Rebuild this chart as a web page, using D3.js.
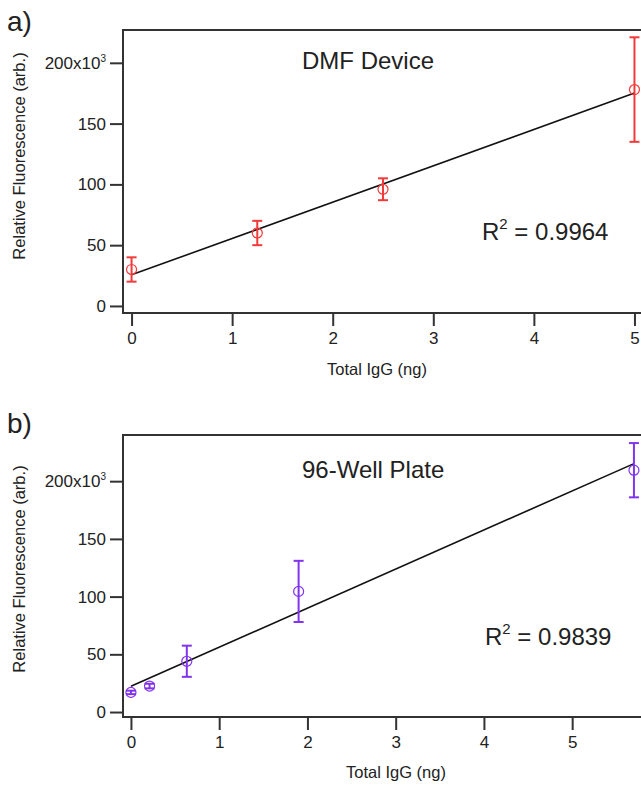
<!DOCTYPE html>
<html>
<head>
<meta charset="utf-8">
<script src="https://cdn.jsdelivr.net/npm/d3@7"></script>
<style>
  body { margin: 0; background: #fff; }
  svg text { font-family: "Liberation Sans", Arial, sans-serif; fill: #222; }
</style>
</head>
<body>
<div class="canvas"></div>
<script>
const WIDTH = 641;
const HEIGHT = 785;

// data (fluorescence in x10^3 arb. units)
const dmfIgG = [0, 1.25, 2.5, 5];
const dmfFluor = [30, 60, 96, 178];
const dmfErr = [10, 10, 9, 43];

const plateIgG = [0, 0.211, 0.633, 1.9, 5.7];
const plateFluor = [17, 22.5, 44, 104.5, 209.5];
const plateErr = [1.5, 2, 13.5, 26.5, 23.5];

const yTicks = [0, 50, 100, 150, 200];
const xTicks = [0, 1, 2, 3, 4, 5];

// colors
const red = '#f23a3a';
const purple = '#8133ee';
const axisColor = '#333';

const svg = d3.select('.canvas')
  .append('svg')
    .attr('width', WIDTH)
    .attr('height', HEIGHT);

// least squares fit
const fit = (xs, ys) => {
  const mx = d3.mean(xs), my = d3.mean(ys);
  const sxy = d3.sum(xs, (x, i) => (x - mx) * (ys[i] - my));
  const sxx = d3.sum(xs, x => (x - mx) * (x - mx));
  const slope = sxy / sxx;
  return { slope, intercept: my - slope * mx };
};

const drawPanel = cfg => {
  const x = d3.scaleLinear().domain(cfg.xDomain).range([123, 641]);
  const y = d3.scaleLinear().domain(cfg.yDomain).range([cfg.bottom, cfg.top]);

  const g = svg.append('g');

  // panel letter
  g.append('text')
    .attr('x', 7)
    .attr('y', cfg.letterY)
    .attr('font-size', 28)
    .text(cfg.letter);

  // frame (right side runs off the picture)
  g.append('path')
    .attr('d', `M650,${cfg.top}H123V${cfg.bottom}H650`)
    .attr('fill', 'none')
    .attr('stroke', axisColor)
    .attr('stroke-width', 2);

  // y axis
  const yAxis = d3.axisLeft(y)
    .tickValues(yTicks)
    .tickSize(13)
    .tickPadding(4)
    .tickFormat(d => d === 200 ? '' : d);

  const yAxisGroup = g.append('g')
    .attr('transform', 'translate(123,0)')
    .call(yAxis);
  yAxisGroup.select('.domain').remove();
  yAxisGroup.selectAll('line').attr('stroke', axisColor).attr('stroke-width', 2);
  yAxisGroup.selectAll('text')
    .attr('font-size', 17)
    .attr('fill', '#222')
    .each(function(d) {
      if (d !== 200) return;
      const t = d3.select(this);
      t.append('tspan').text('200x10');
      t.append('tspan').attr('font-size', 10).attr('dy', -7).text('3');
    });

  // x axis
  const xAxis = d3.axisBottom(x)
    .tickValues(xTicks)
    .tickSize(13)
    .tickPadding(6)
    .tickFormat(d3.format('d'));

  const xAxisGroup = g.append('g')
    .attr('transform', `translate(0,${cfg.bottom})`)
    .call(xAxis);
  xAxisGroup.select('.domain').remove();
  xAxisGroup.selectAll('line').attr('stroke', axisColor).attr('stroke-width', 2);
  xAxisGroup.selectAll('text').attr('font-size', 17).attr('fill', '#222');

  // axis titles
  g.append('text')
    .attr('transform', `translate(25,${cfg.yLabelCenter}) rotate(-90)`)
    .attr('text-anchor', 'middle')
    .attr('font-size', 16.5)
    .text('Relative Fluorescence (arb.)');

  g.append('text')
    .attr('x', cfg.xLabelX)
    .attr('y', cfg.xLabelY)
    .attr('font-size', 16.5)
    .text('Total IgG (ng)');

  // fit line
  const f = fit(cfg.xs, cfg.ys);
  const xEnd = d3.max(cfg.xs);
  g.append('line')
    .attr('x1', x(0))
    .attr('y1', y(f.intercept))
    .attr('x2', x(xEnd))
    .attr('y2', y(f.intercept + f.slope * xEnd))
    .attr('stroke', '#111')
    .attr('stroke-width', 1.6);

  const pts = cfg.xs.map((v, i) => ({ x: v, y: cfg.ys[i], e: cfg.errs[i] }));

  // error bars
  const bars = g.selectAll('.err')
    .data(pts)
    .enter().append('g')
      .attr('class', 'err')
      .attr('stroke', cfg.color)
      .attr('stroke-width', 2);

  bars.append('line')
    .attr('x1', d => x(d.x)).attr('x2', d => x(d.x))
    .attr('y1', d => y(d.y - d.e)).attr('y2', d => y(d.y + d.e));
  bars.append('line')
    .attr('x1', d => x(d.x) - 5).attr('x2', d => x(d.x) + 5)
    .attr('y1', d => y(d.y + d.e)).attr('y2', d => y(d.y + d.e));
  bars.append('line')
    .attr('x1', d => x(d.x) - 5).attr('x2', d => x(d.x) + 5)
    .attr('y1', d => y(d.y - d.e)).attr('y2', d => y(d.y - d.e));

  // markers
  g.selectAll('circle')
    .data(pts)
    .enter().append('circle')
      .attr('cx', d => x(d.x))
      .attr('cy', d => y(d.y))
      .attr('r', 5)
      .attr('fill', 'none')
      .attr('stroke', cfg.color)
      .attr('stroke-width', 1.2);

  // annotations
  g.append('text')
    .attr('x', 302)
    .attr('y', cfg.titleY)
    .attr('font-size', 24)
    .text(cfg.title);

  const r2 = g.append('text')
    .attr('x', cfg.r2X)
    .attr('y', cfg.r2Y)
    .attr('font-size', 24);
  r2.append('tspan').text('R');
  r2.append('tspan').attr('font-size', 15).attr('dy', -11).text('2');
  r2.append('tspan').attr('dy', 11).text(' = ' + cfg.r2);
};

drawPanel({
  letter: 'a)', letterY: 31,
  top: 30, bottom: 313,
  xDomain: [-0.085, 5.065], yDomain: [-5.8, 227],
  xs: dmfIgG, ys: dmfFluor, errs: dmfErr, color: red,
  title: 'DMF Device', titleY: 69,
  r2: '0.9964', r2X: 482, r2Y: 240,
  yLabelCenter: 156, xLabelX: 327, xLabelY: 375
});

drawPanel({
  letter: 'b)', letterY: 433,
  top: 435, bottom: 717,
  xDomain: [-0.09, 5.78], yDomain: [-4.3, 240],
  xs: plateIgG, ys: plateFluor, errs: plateErr, color: purple,
  title: '96-Well Plate', titleY: 478,
  r2: '0.9839', r2X: 485, r2Y: 645,
  yLabelCenter: 569, xLabelX: 346, xLabelY: 778
});
</script>
</body>
</html>
